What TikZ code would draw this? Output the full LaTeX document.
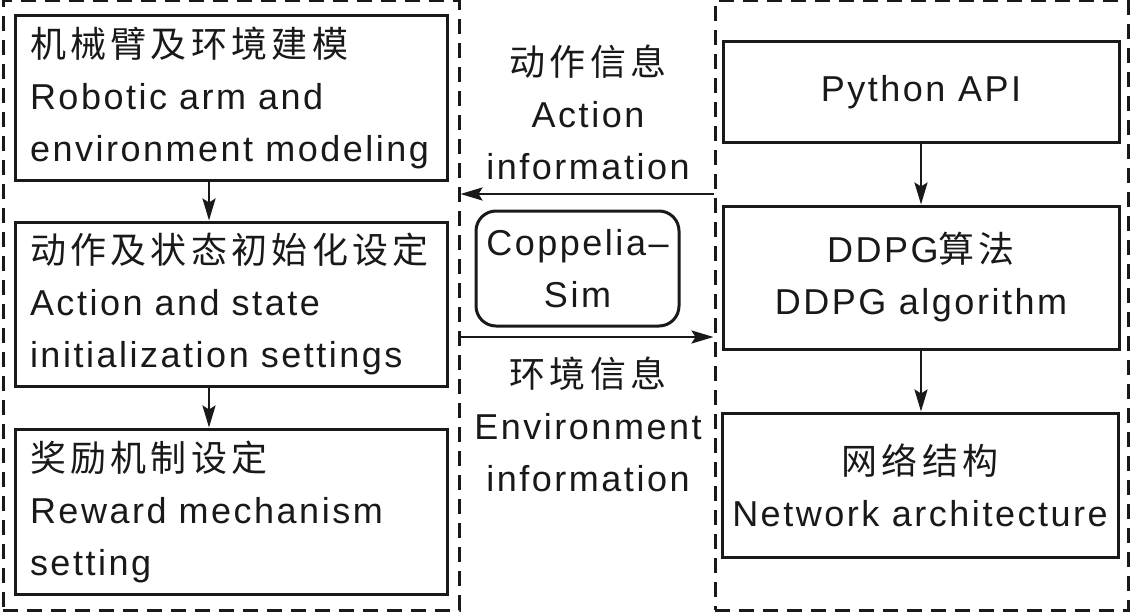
\documentclass[tikz,border=0pt]{standalone}
\usepackage{fontspec}
\setmainfont{Liberation Sans}[LetterSpace=7]
\newfontfamily\cjk{Noto Sans CJK SC}[LetterSpace=12]
\usetikzlibrary{arrows.meta}
\begin{document}
\begin{tikzpicture}[x=1pt,y=-1pt,
  every node/.style={font=\fontsize{36}{52}\selectfont, text=black!90},
  group/.style={draw=black!90, line width=3pt, dash pattern=on 15pt off 9pt, inner sep=0pt},
  box/.style={draw=black!90, line width=3pt, inner sep=0pt},
  lbox/.style={box, align=left, text width=402pt, inner xsep=15pt},
  rbox/.style={box, align=center},
  lbl/.style={align=center, inner sep=0pt},
  arr/.style={draw=black!90, line width=2.6pt, -{Stealth[length=22pt,width=13pt,inset=4pt]}}]
\useasboundingbox (0,0) rectangle (1134,615);
% dashed groups
\node[group, minimum width=456pt, minimum height=609pt] (L) at (231,305.5) {};
\node[group, minimum width=413pt, minimum height=609pt] (R) at (921.5,305.5) {};
% left boxes
\node[lbox, minimum width=432pt, minimum height=164pt] (l1) at (231,98)
  {{\cjk 机械臂及环境建模}\\Robotic arm and\\environment modeling};
\node[lbox, minimum width=432pt, minimum height=164pt] (l2) at (231,304)
  {{\cjk 动作及状态初始化设定}\\Action and state\\initialization settings};
\node[lbox, minimum width=432pt, minimum height=165pt] (l3) at (231,511.5)
  {{\cjk 奖励机制设定}\\Reward mechanism\\setting};
% right boxes
\node[rbox, minimum width=396pt, minimum height=100pt] (r1) at (921,92) {Python API};
\node[rbox, minimum width=396pt, minimum height=143pt] (r2) at (921,277.5)
  {DDPG{\cjk 算法}\\DDPG algorithm};
\node[rbox, minimum width=396pt, minimum height=144pt] (r3) at (920,485)
  {{\cjk 网络结构}\\Network architecture};
% middle
\node[box, rounded corners=20pt, minimum width=203pt, minimum height=115pt, align=center] (cs) at (577.5,268.5)
  {Coppelia--\\Sim};
\node[lbl] (act) at (588,112) {{\cjk 动作信息}\\Action\\information};
\node[lbl] (env) at (588,424) {{\cjk 环境信息}\\Environment\\information};
% connectors
\coordinate (a1) at (R.west |- 0,194);
\coordinate (a2) at (L.east |- 0,194);
\coordinate (e1) at (L.east |- 0,337);
\coordinate (e2) at (R.west |- 0,337);
\draw[arr] (a1) -- (a2);
\draw[arr] (e1) -- (e2);
\draw[arr] (l1.south -| 209,0) -- (l2.north -| 209,0);
\draw[arr] (l2.south -| 209,0) -- (l3.north -| 209,0);
\draw[arr] (r1) -- (r2);
\draw[arr] (r2.south -| r1.south) -- (r3.north -| r1.south);
\end{tikzpicture}
\end{document}
